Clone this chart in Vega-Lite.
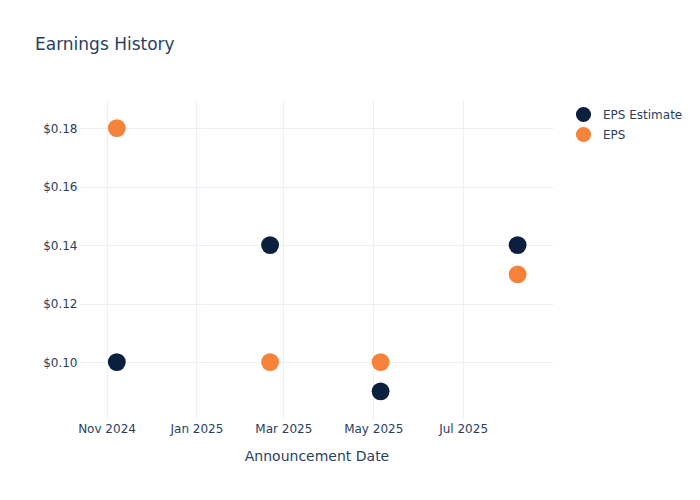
{
  "$schema": "https://vega.github.io/schema/vega-lite/v6.json",
  "width": 473,
  "height": 320,
  "autosize": {"type": "none"},
  "padding": {"left": 80, "top": 100, "right": 147, "bottom": 80},
  "background": "white",
  "title": {
    "text": "Earnings History",
    "anchor": "start",
    "frame": "group",
    "dx": -45,
    "offset": 46,
    "font": "DejaVu Sans",
    "fontSize": 17,
    "fontWeight": "normal",
    "color": "#2a3f5f"
  },
  "data": {
    "values": [
      {"date": "2024-11-08", "series": "EPS Estimate", "value": 0.10},
      {"date": "2025-02-20", "series": "EPS Estimate", "value": 0.14},
      {"date": "2025-05-06", "series": "EPS Estimate", "value": 0.09},
      {"date": "2025-08-07", "series": "EPS Estimate", "value": 0.14},
      {"date": "2024-11-08", "series": "EPS", "value": 0.18},
      {"date": "2025-02-20", "series": "EPS", "value": 0.10},
      {"date": "2025-05-06", "series": "EPS", "value": 0.10},
      {"date": "2025-08-07", "series": "EPS", "value": 0.13}
    ]
  },
  "mark": {"type": "circle", "size": 320, "opacity": 1},
  "encoding": {
    "x": {
      "field": "date",
      "type": "temporal",
      "scale": {
        "type": "utc",
        "domain": [
          {"year": 2024, "month": 10, "date": 14, "utc": true},
          {"year": 2025, "month": 8, "date": 31, "utc": true}
        ]
      },
      "axis": {
        "title": "Announcement Date",
        "values": [
          {"year": 2024, "month": 11, "date": 1, "utc": true},
          {"year": 2025, "month": 1, "date": 1, "utc": true},
          {"year": 2025, "month": 3, "date": 1, "utc": true},
          {"year": 2025, "month": 5, "date": 1, "utc": true},
          {"year": 2025, "month": 7, "date": 1, "utc": true}
        ],
        "labelExpr": "utcFormat(datum.value, '%b %Y')",
        "labelFlush": false,
        "labelOverlap": false
      }
    },
    "y": {
      "field": "value",
      "type": "quantitative",
      "scale": {"domain": [0.0802, 0.1896], "nice": false, "zero": false},
      "axis": {
        "title": null,
        "values": [0.10, 0.12, 0.14, 0.16, 0.18],
        "format": "$.2f"
      }
    },
    "color": {
      "field": "series",
      "type": "nominal",
      "scale": {"domain": ["EPS Estimate", "EPS"], "range": ["#0b1f3f", "#f7823a"]},
      "legend": {
        "title": null,
        "orient": "none",
        "legendX": 495,
        "legendY": 6,
        "symbolType": "circle",
        "symbolSize": 230,
        "symbolOpacity": 1,
        "labelFont": "DejaVu Sans",
        "labelFontSize": 12,
        "labelColor": "#2a3f5f",
        "rowPadding": 3,
        "labelOffset": 11
      }
    }
  },
  "config": {
    "view": {"stroke": null},
    "axis": {
      "domain": false,
      "ticks": false,
      "grid": true,
      "gridColor": "#ebf0f8",
      "gridWidth": 1,
      "labelFont": "DejaVu Sans",
      "labelFontSize": 12,
      "labelColor": "#2a3f5f",
      "labelPadding": 4,
      "titleFont": "DejaVu Sans",
      "titleFontSize": 14,
      "titleFontWeight": "normal",
      "titleColor": "#2a3f5f"
    },
    "axisX": {"labelPadding": 3, "titlePadding": 15},
    "axisY": {"labelPadding": 3}
  }
}
